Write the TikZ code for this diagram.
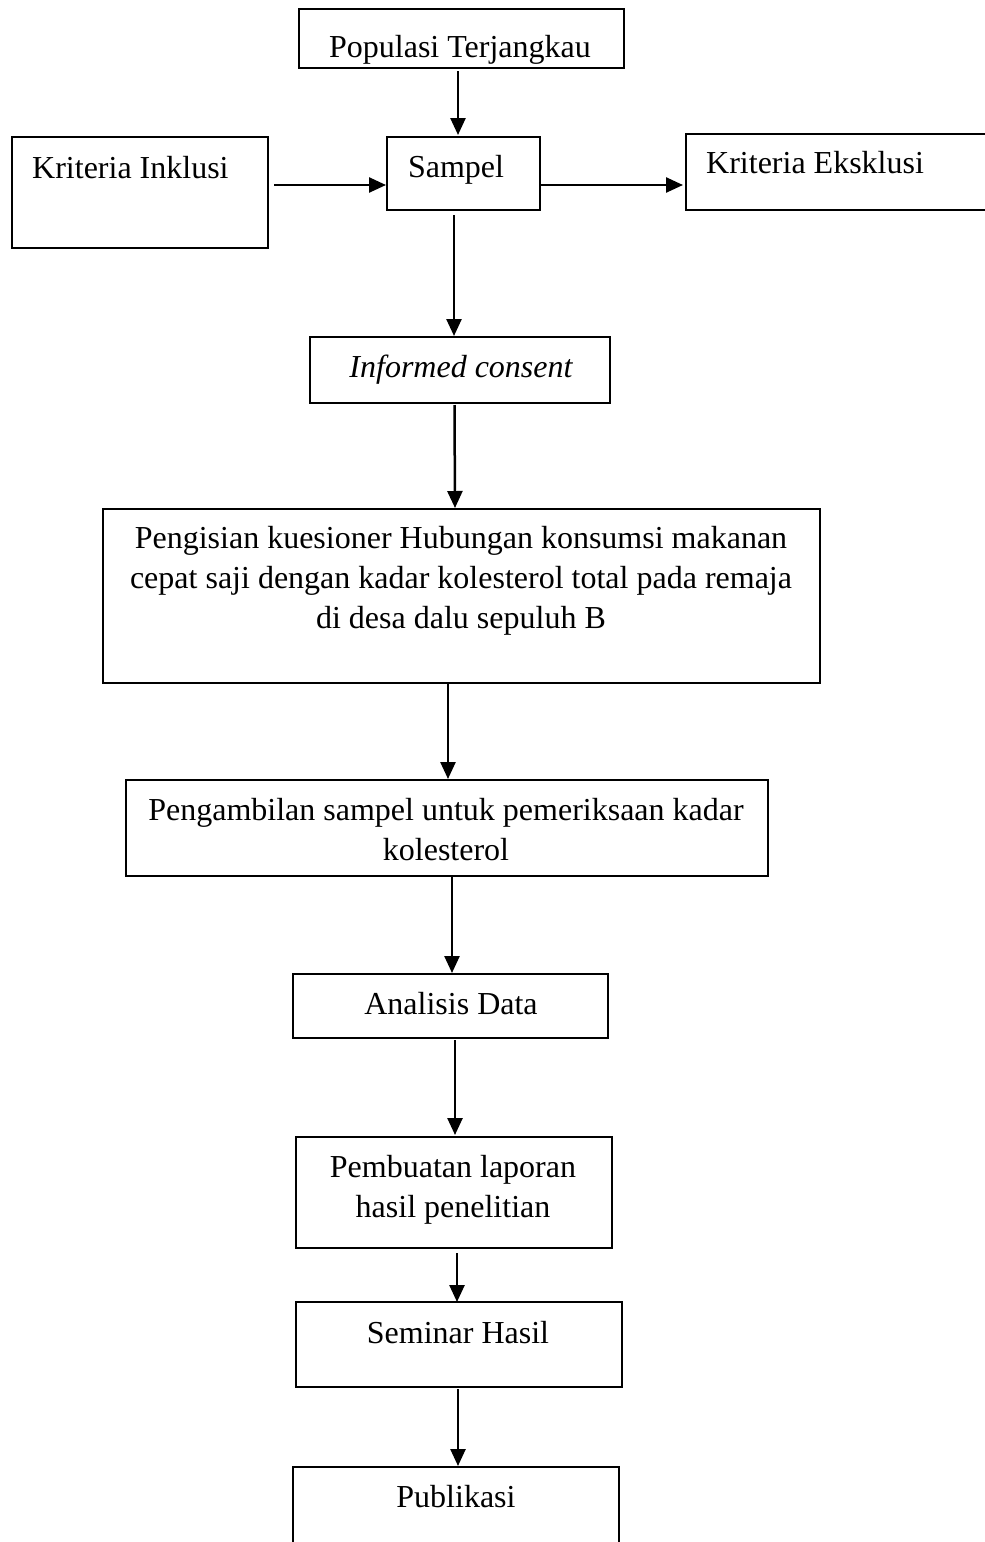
\documentclass[tikz,border=0pt]{standalone}
\usepackage{fontspec}
\setmainfont{Liberation Serif}
\usetikzlibrary{arrows.meta,calc}
\begin{document}
\begin{tikzpicture}[x=1pt,y=-1pt,
  box/.style={draw=black, line width=1.3pt, rectangle, inner sep=0pt, outer sep=0pt},
  txt/.style={inner sep=0pt, font=\fontsize{32}{40}\selectfont},
  arr/.style={draw=black, line width=2.5pt, -{Triangle[length=17pt,width=15pt]}}]
\useasboundingbox (0,0) rectangle (985,1542);
\clip (0,0) rectangle (985,1542);
% boxes
\node[box, minimum width=325pt, minimum height=59pt]  (pop)  at (461.5,38.5) {};
\node[box, minimum width=153pt, minimum height=73pt]  (samp) at (463.5,173.5) {};
\node[box, minimum width=256pt, minimum height=111pt] (inkl) at (140,192.5) {};
\node[box, minimum width=324pt, minimum height=76pt]  (eks)  at (848,172) {};
\node[box, minimum width=300pt, minimum height=66pt]  (inf)  at (460,370) {};
\node[box, minimum width=717pt, minimum height=174pt] (big)  at (461.5,596) {};
\node[box, minimum width=642pt, minimum height=96pt]  (peng) at (447,828) {};
\node[box, minimum width=315pt, minimum height=64pt]  (anal) at (450.5,1006) {};
\node[box, minimum width=316pt, minimum height=111pt] (pemb) at (454,1192.5) {};
\node[box, minimum width=326pt, minimum height=85pt]  (sem)  at (459,1344.5) {};
\node[box, minimum width=326pt, minimum height=133pt] (pub)  at (456,1533.5) {};
% texts (multi-line nodes: base anchor = baseline of last line)
\node[txt, anchor=base] (popt) at (460,57) {Populasi Terjangkau};
\node[txt, anchor=base] (sampt) at (456,177) {Sampel};
\node[txt, anchor=base west] (inklt) at (32,178) {Kriteria Inklusi};
\node[txt, anchor=base west] (ekst) at (706,173) {Kriteria Eksklusi};
\node[txt, anchor=base] (inft) at (461,377) {\itshape Informed consent};
\node[txt, anchor=base, align=center] (bigt) at (461,628) {Pengisian kuesioner Hubungan konsumsi makanan\\cepat saji dengan kadar kolesterol total pada remaja\\di desa dalu sepuluh B};
\node[txt, anchor=base, align=center] (pengt) at (446,860) {Pengambilan sampel untuk pemeriksaan kadar\\kolesterol};
\node[txt, anchor=base] (analt) at (451,1014) {Analisis Data};
\node[txt, anchor=base, align=center] (pembt) at (453,1217) {Pembuatan laporan\\hasil penelitian};
\node[txt, anchor=base] (semt) at (458,1343) {Seminar Hasil};
\node[txt, anchor=base] (pubt) at (456,1507) {Publikasi};
% arrows
\draw[arr] ($(pop.south)+(-3.5,3)$) -- ($(pop.south |- samp.north)+(-3.5,-2)$);
\draw[arr] ($(inkl.east)+(6,-7.5)$) -- ($(samp.west |- inkl.east)+(-1,-7.5)$);
\draw[arr] ($(samp.east)+(0,11.5)$) -- ($(eks.west |- samp.east)+(-3,11.5)$);
\draw[arr] ($(samp.south)+(-9.5,5)$) -- ($(samp.south |- inf.north)+(-9.5,-1)$);
\draw[arr] ($(inf.south)+(-5.5,2)$) -- ($(inf.south |- big.north)+(-5,-1)$);
\draw[arr] ($(big.south)+(-13.5,0)$) -- ($(big.south |- peng.north)+(-13.5,-1)$);
\draw[arr] ($(peng.south)+(5,1)$) -- ($(peng.south |- anal.north)+(5,-1)$);
\draw[arr] ($(anal.south)+(4.5,2)$) -- ($(anal.south |- pemb.north)+(4.5,-2)$);
\draw[arr] ($(pemb.south)+(3,5)$) -- ($(pemb.south |- sem.north)+(3,0)$);
\draw[arr] ($(sem.south)+(-1,2)$) -- ($(sem.south |- pub.north)+(-1,-1)$);
\end{tikzpicture}
\end{document}
